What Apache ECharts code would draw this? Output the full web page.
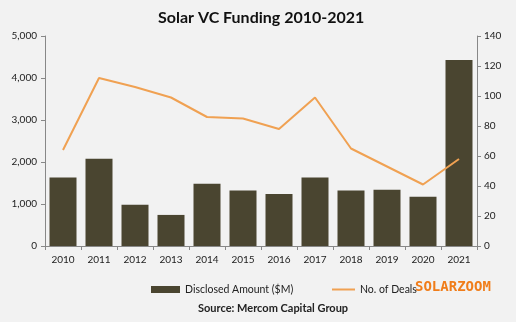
<!DOCTYPE html>
<html><head><meta charset="utf-8">
<script src="https://cdn.jsdelivr.net/npm/echarts@6/dist/echarts.min.js"></script>
<style>html,body{margin:0;padding:0;background:#f2f2f2}#c{width:516px;height:322px}</style>
</head><body><div id="c"></div>
<script>
const years = ['2010','2011','2012','2013','2014','2015','2016','2017','2018','2019','2020','2021'];
const amount = [1630,2080,980,740,1480,1320,1240,1630,1320,1340,1170,4430];
const deals = [64,112,106,99,86,85,78,99,65,53,41,58];
const leftTicks = [0,1000,2000,3000,4000,5000];
const rightTicks = [0,20,40,60,80,100,120,140];

const font = 'Lato';
const chart = echarts.init(document.getElementById('c'));
chart.setOption({
  backgroundColor: '#f2f2f2',
  animation: false,
  title: {text: 'Solar VC Funding 2010-2021', left: 153, top: 5,
    textStyle: {fontFamily: font, fontSize: 16, fontWeight: 'bold', color: '#111'}},
  grid: {left: 45, right: 39, top: 36, bottom: 76},
  legend: [
    {left: 146, top: 279, itemWidth: 29, itemHeight: 7, itemGap: 4,
     textStyle: {fontFamily: font, fontSize: 10.5, color: '#222'},
     data: [{name: 'Disclosed Amount ($M)', icon: 'rect'}]},
    {left: 327, top: 279, itemWidth: 23, itemHeight: 2, itemGap: 4,
     textStyle: {fontFamily: font, fontSize: 10.5, color: '#222'},
     data: [{name: 'No. of Deals', icon: 'rect'}]}
  ],
  xAxis: {type: 'category', data: years,
    axisLine: {lineStyle: {color: '#888'}},
    axisTick: {show: true, length: 4, lineStyle: {color: '#888'}},
    axisLabel: {fontFamily: font, fontSize: 10, color: '#222', margin: 9}},
  yAxis: [
    {type: 'value', min: 0, max: 5000, interval: 1000, splitLine: {show: false},
     axisLine: {show: true, lineStyle: {color: '#888'}},
     axisTick: {show: true, inside: false, length: 4, lineStyle: {color: '#888'}},
     axisLabel: {fontFamily: font, fontSize: 10, color: '#222', margin: 8,
       formatter: v => v.toLocaleString('en-US')}},
    {type: 'value', min: 0, max: 140, interval: 20, position: 'right', splitLine: {show: false},
     axisLine: {show: true, lineStyle: {color: '#888'}},
     axisTick: {show: true, length: 4, lineStyle: {color: '#888'}},
     axisLabel: {fontFamily: font, fontSize: 10, color: '#222', margin: 7}}
  ],
  series: [
    {name: 'Disclosed Amount ($M)', type: 'bar', data: amount, barCategoryGap: '25%',
     itemStyle: {color: '#4a4530'}},
    {name: 'No. of Deals', type: 'line', yAxisIndex: 1, data: deals, symbol: 'none',
     lineStyle: {color: '#f0a152', width: 2}, itemStyle: {color: '#f0a152'}}
  ],
  graphic: [
    {type: 'text', left: 415, top: 280, style: {text: 'SOLARZOOM', fontFamily: 'DejaVu Sans Mono',
      fontSize: 14, fontWeight: 'bold', fill: '#f07d1a'}},
    {type: 'text', left: 198, top: 303, style: {text: 'Source: Mercom Capital Group',
      fontFamily: font, fontSize: 11, fontWeight: 'bold', fill: '#222'}}
  ]
});
</script></body></html>
